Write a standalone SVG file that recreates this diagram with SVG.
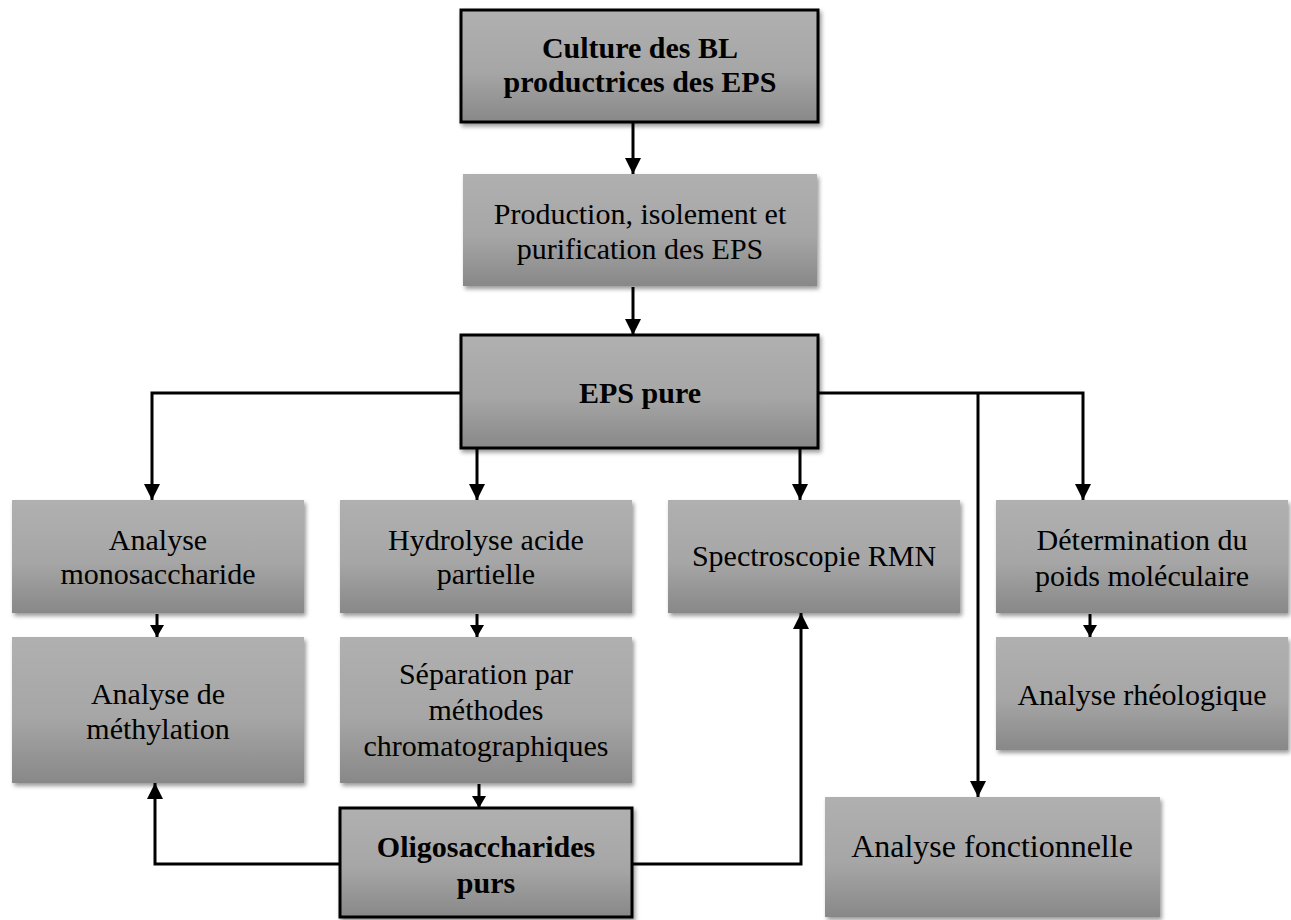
<svg xmlns="http://www.w3.org/2000/svg" width="1291" height="920" viewBox="0 0 1291 920">
<style>
.box{fill:url(#g);filter:url(#sh)}
.bb{stroke:#000;stroke-width:3}
text{font-family:"Liberation Serif","Times New Roman",serif;font-size:30px;fill:#000;text-anchor:middle}
.b{font-weight:bold}
.c{fill:none;stroke:#000;stroke-width:3}
</style>
<defs>
<linearGradient id="g" x1="0" y1="0" x2="0" y2="1">
<stop offset="0" stop-color="#b0b0b0"/>
<stop offset="0.55" stop-color="#a6a6a6"/>
<stop offset="1" stop-color="#888888"/>
</linearGradient>
<filter id="sh" x="-10%" y="-10%" width="125%" height="130%">
<feDropShadow dx="2" dy="3" stdDeviation="2" flood-color="#000" flood-opacity="0.4"/>
</filter>
<marker id="ar" markerUnits="userSpaceOnUse" markerWidth="16" markerHeight="16" viewBox="0 0 16 16" refX="16" refY="8" orient="auto">
<path d="M0,0 L16,8 L0,16 Z" fill="#000"/>
</marker>
<marker id="as" markerUnits="userSpaceOnUse" markerWidth="12" markerHeight="14" viewBox="0 0 12 14" refX="12" refY="7" orient="auto">
<path d="M0,0 L12,7 L0,14 Z" fill="#000"/>
</marker>
</defs>
<rect width="1291" height="920" fill="#fff"/>
<g id="connectors">
<path class="c" d="M633,123 V174" marker-end="url(#ar)"/>
<path class="c" d="M633,287 V335" marker-end="url(#ar)"/>
<path class="c" d="M461,393 H152 V500" marker-end="url(#ar)"/>
<path class="c" d="M477,448 V500" marker-end="url(#ar)"/>
<path class="c" d="M800,448 V500" marker-end="url(#ar)"/>
<path class="c" d="M818,393 H1083 V500" marker-end="url(#ar)"/>
<path class="c" d="M978,393 V797" marker-end="url(#ar)"/>
<path class="c" d="M157,614 V637" marker-end="url(#as)"/>
<path class="c" d="M477,614 V637" marker-end="url(#as)"/>
<path class="c" d="M1090,614 V637" marker-end="url(#as)"/>
<path class="c" d="M479,784 V808" marker-end="url(#as)"/>
<path class="c" d="M340,864 H155 V783" marker-end="url(#ar)"/>
<path class="c" d="M632,864 H801 V613" marker-end="url(#ar)"/>
</g>
<g id="culture">
<rect class="box bb" x="461" y="10" width="357" height="112"/>
<text class="b" x="640" y="58">Culture des BL</text>
<text class="b" x="640" y="92">productrices des EPS</text>
</g>
<g id="production">
<rect class="box" x="463" y="174" width="354" height="112"/>
<text x="640" y="224">Production, isolement et</text>
<text x="640" y="259">purification des EPS</text>
</g>
<g id="eps">
<rect class="box bb" x="461" y="335" width="357" height="113"/>
<text class="b" x="640" y="403">EPS pure</text>
</g>
<g id="mono">
<rect class="box" x="12" y="500" width="292" height="113"/>
<text x="158" y="550">Analyse</text>
<text x="158" y="584">monosaccharide</text>
</g>
<g id="methyl">
<rect class="box" x="12" y="637" width="292" height="146"/>
<text x="158" y="704">Analyse de</text>
<text x="158" y="739">méthylation</text>
</g>
<g id="hydrolyse">
<rect class="box" x="340" y="500" width="292" height="113"/>
<text x="486" y="550">Hydrolyse acide</text>
<text x="486" y="584">partielle</text>
</g>
<g id="separation">
<rect class="box" x="340" y="637" width="292" height="146"/>
<text x="486" y="684">Séparation par</text>
<text x="486" y="720">méthodes</text>
<text x="486" y="756">chromatographiques</text>
</g>
<g id="oligo">
<rect class="box bb" x="340" y="808" width="292" height="109"/>
<text class="b" x="486" y="857">Oligosaccharides</text>
<text class="b" x="486" y="893">purs</text>
</g>
<g id="rmn">
<rect class="box" x="668" y="500" width="292" height="113"/>
<text x="814" y="566">Spectroscopie RMN</text>
</g>
<g id="determination">
<rect class="box" x="996" y="500" width="292" height="113"/>
<text x="1142" y="550">Détermination du</text>
<text x="1142" y="586">poids moléculaire</text>
</g>
<g id="rheologique">
<rect class="box" x="996" y="637" width="292" height="113"/>
<text x="1142" y="705">Analyse rhéologique</text>
</g>
<g id="fonctionnelle">
<rect class="box" x="825" y="797" width="335" height="120"/>
<text x="992" y="857" style="font-size:32px">Analyse fonctionnelle</text>
</g>
</svg>
